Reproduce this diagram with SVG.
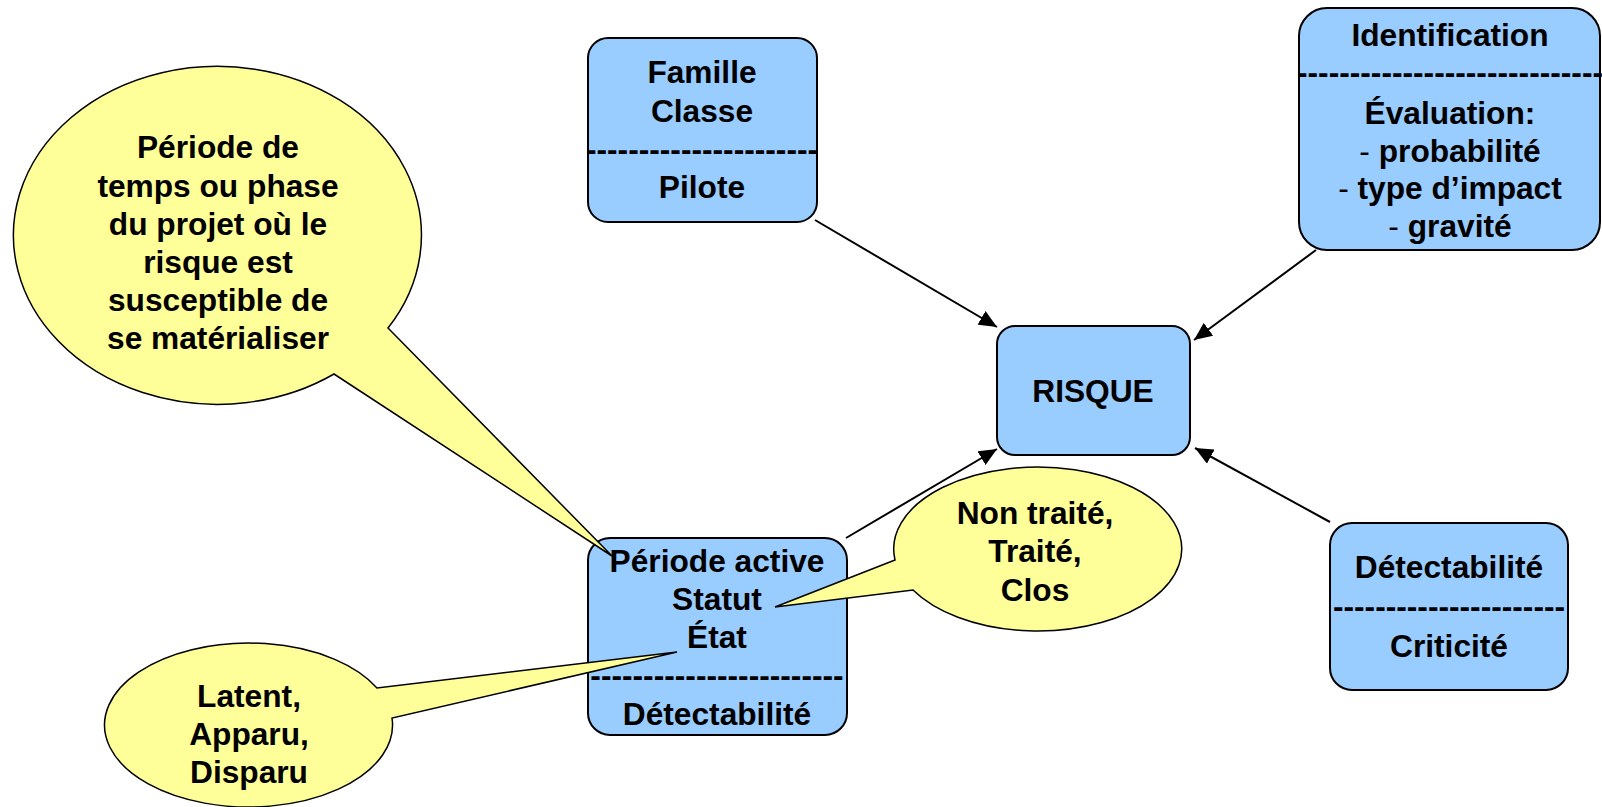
<svg xmlns="http://www.w3.org/2000/svg" width="1602" height="807" viewBox="0 0 1602 807">
<style>
.box{fill:#99CCFF;stroke:#000;stroke-width:2}
.call{fill:#FFFF99;stroke:#000;stroke-width:1.5;stroke-linejoin:miter}
.t{font-family:"Liberation Sans",Arial,sans-serif;font-weight:bold;font-size:31.7px;text-anchor:middle;fill:#000}
.c{stroke:#000;stroke-width:2;fill:none;marker-end:url(#arr)}
</style>
<defs>
<marker id="arr" markerUnits="userSpaceOnUse" markerWidth="20" markerHeight="16" refX="18" refY="8" orient="auto">
<path d="M0,0 L18,8 L0,16 Z" fill="#000"/>
</marker>
</defs>
<rect width="1602" height="807" fill="#fff"/>

<g id="famille">
<rect class="box" x="588" y="38" width="229" height="184" rx="20"/>
<text class="t" x="702" y="83">Famille</text>
<text class="t" x="702" y="122">Classe</text>
<text class="t" x="702" y="160">----------------------</text>
<text class="t" x="702" y="198">Pilote</text>
</g>

<g id="identification">
<rect class="box" x="1299" y="8" width="301" height="242" rx="28"/>
<text class="t" x="1450" y="46">Identification</text>
<text class="t" x="1450" y="83">-----------------------------</text>
<text class="t" x="1450" y="124">Évaluation:</text>
<text class="t" x="1450" y="162"><tspan font-weight="normal">- </tspan>probabilité</text>
<text class="t" x="1450" y="199"><tspan font-weight="normal">- </tspan>type d’impact</text>
<text class="t" x="1450" y="237"><tspan font-weight="normal">- </tspan>gravité</text>
</g>

<g id="risque">
<rect class="box" x="997" y="326" width="193" height="129" rx="18"/>
<text class="t" x="1093" y="402">RISQUE</text>
</g>

<g id="periode">
<rect class="box" x="588" y="538" width="259" height="197" rx="22"/>
<text class="t" x="717" y="572">Période active</text>
<text class="t" x="717" y="610">Statut</text>
<text class="t" x="717" y="648">État</text>
<text class="t" x="717" y="686">------------------------</text>
<text class="t" x="717" y="725">Détectabilité</text>
</g>

<g id="criticite">
<rect class="box" x="1330" y="523" width="238" height="167" rx="22"/>
<text class="t" x="1449" y="578">Détectabilité</text>
<text class="t" x="1449" y="617">----------------------</text>
<text class="t" x="1449" y="657">Criticité</text>
</g>

<g id="callout-periode">
<path class="call" d="M388,328 A204,169 0 1 0 334,374 L612,556 Z"/>
<text class="t" x="218" y="158">Période de</text>
<text class="t" x="218" y="197">temps ou phase</text>
<text class="t" x="218" y="235">du projet où le</text>
<text class="t" x="218" y="273">risque est</text>
<text class="t" x="218" y="311">susceptible de</text>
<text class="t" x="218" y="349">se matérialiser</text>
</g>

<g id="callout-statut">
<path class="call" d="M895,560 A144,82 0 1 1 913,590 L775,607 Z"/>
<text class="t" x="1035" y="524">Non traité,</text>
<text class="t" x="1035" y="562">Traité,</text>
<text class="t" x="1035" y="601">Clos</text>
</g>

<g id="callout-etat">
<path class="call" d="M377,688 A144,82 0 1 0 392,718 L677,652 Z"/>
<text class="t" x="249" y="707">Latent,</text>
<text class="t" x="249" y="745">Apparu,</text>
<text class="t" x="249" y="783">Disparu</text>
</g>

<g id="connectors">
<line class="c" x1="815" y1="220" x2="997" y2="327"/>
<line class="c" x1="1316" y1="250" x2="1194" y2="340"/>
<line class="c" x1="846" y1="538" x2="997" y2="449"/>
<line class="c" x1="1330" y1="522" x2="1195" y2="448"/>
</g>
</svg>
